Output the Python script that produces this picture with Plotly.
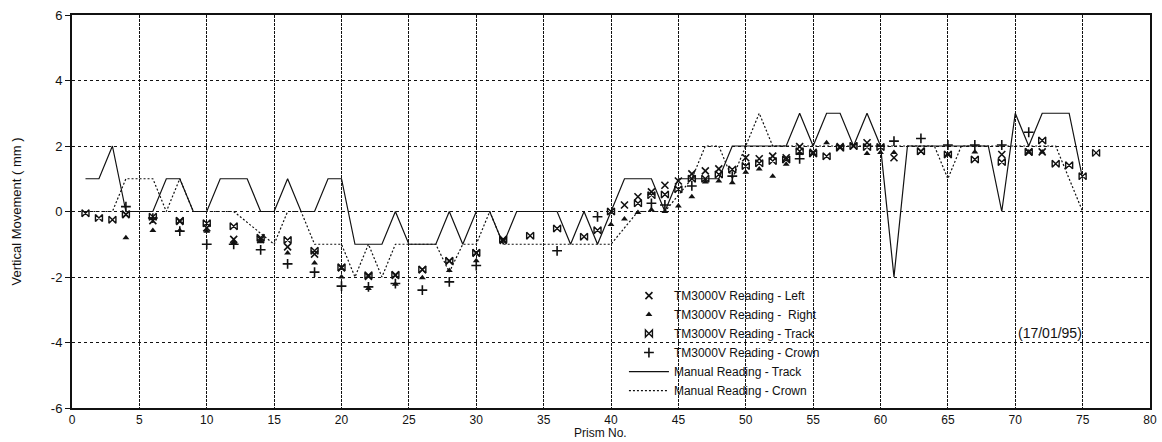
import plotly.graph_objects as go

# ---- Manual readings (lines) ----
manual_track_x = list(range(1, 76))
manual_track_y = [1, 1, 2, 0, 0, 0, 1, 1, 0, 0, 1, 1, 1, 0, 0, 1, 0, 0, 1, 1,
                  -1, -1, -1, 0, -1, -1, -1, 0, -1, 0, 0, -1, 0, 0, 0, 0, -1, 0, -1, 0,
                  1, 1, 1, 0, 1, 1, 1, 1, 2, 2, 2, 2, 2, 3, 2, 3, 3, 2, 3, 2,
                  -2, 2, 2, 2, 2, 2, 2, 2, 0, 3, 2, 3, 3, 3, 1]

manual_crown_x = [1, 2, 3, 4, 5, 6, 7, 8, 9, 10, 11, 12, 15, 16, 17, 18, 19, 20,
                  21, 22, 23, 24, 25, 26, 27, 28, 29, 30, 31, 32, 33, 34, 35, 36, 37, 38, 39, 40,
                  42, 43, 44, 45, 46, 47, 48, 49, 50, 51, 52, 53, 54, 55, 56, 57, 58, 59, 60,
                  61, 62, 63, 64, 65, 66, 67, 68, 69, 70, 71, 72, 73, 74, 75]
manual_crown_y = [0, 0, 0, 1, 1, 1, 0, 1, 0, 0, 0, 0, -1, 0, 0, -1, -1, -1,
                  -2, -1, -2, -1, -1, -1, -1, -1.85, -1, -1, 0, -1, -1, -1, -1, -1, -1, -1, -1, -1,
                  0, 0, 0, 0.5, 1, 2, 2, 1, 2, 3, 2, 2, 2, 2, 2, 2, 2, 2, 2,
                  2, 2, 2, 2, 1, 2, 2, 2, 2, 2, 2, 2, 2, 1, 0]

# ---- TM3000V readings (markers) ----
left_x = [4, 6, 8, 10, 12, 14, 16, 18, 20, 22, 24, 26, 28, 30, 32,
          41, 42, 43, 44, 45, 46, 47, 48, 50, 51, 52, 53, 54, 55, 57, 58, 59, 61, 63, 69, 71, 72]
left_y = [-0.1, -0.28, -0.3, -0.5, -0.85, -0.85, -1.08, -1.3, -1.72, -1.98, -1.95, -1.78, -1.52, -1.27, -0.88,
          0.2, 0.45, 0.6, 0.8, 0.93, 1.15, 1.24, 1.3, 1.64, 1.61, 1.69, 1.64, 1.98, 1.81, 1.98, 2.0, 2.1, 1.64, 1.84, 1.74, 1.82, 1.82]

right_x = [4, 6, 8, 10, 12, 14, 16, 18, 20, 22, 24, 26, 28, 30,
           40, 41, 42, 43, 44, 45, 46, 47, 48, 49, 50, 51, 52, 53, 54, 56, 59, 60, 61, 65, 67, 71, 72]
right_y = [-0.8, -0.58, -0.58, -0.6, -0.95, -0.92, -1.27, -1.57, -2.0, -2.35, -2.22, -2.02, -1.8, -1.5,
           -0.4, -0.23, -0.03, 0.05, 0.0, 0.17, 0.45, 0.9, 0.93, 0.88, 1.2, 1.3, 1.08, 1.44, 1.77, 2.1, 1.77, 1.8, 1.8, 1.74, 1.82, 1.82, 1.82]

track_x = [1, 2, 3, 4, 6, 8, 10, 12, 14, 16, 18, 20, 22, 24, 26, 28, 30, 32, 34, 36, 38, 39, 40,
           42, 43, 44, 45, 46, 47, 48, 49, 50, 51, 52, 53, 54, 55, 56, 57, 58, 59, 60,
           63, 65, 67, 69, 71, 72, 73, 74, 75, 76]
track_y = [-0.05, -0.2, -0.25, -0.08, -0.16, -0.28, -0.36, -0.45, -0.8, -0.87, -1.2, -1.7, -1.95, -1.93, -1.77, -1.5, -1.26, -0.85, -0.74, -0.52, -0.77, -0.57, 0.0,
           0.25, 0.5, 0.52, 0.68, 1.0, 1.0, 1.13, 1.28, 1.39, 1.47, 1.54, 1.59, 1.84, 1.77, 1.69, 1.95, 2.0, 1.97, 1.97,
           1.84, 1.74, 1.59, 1.51, 1.82, 2.17, 1.46, 1.41, 1.08, 1.79]

crown_x = [4, 6, 8, 10, 12, 14, 16, 18, 20, 22, 24, 26, 28, 30, 36, 39,
           43, 44, 46, 49, 54, 61, 63, 65, 67, 69, 71]
crown_y = [0.15, -0.2, -0.6, -1.0, -1.0, -1.17, -1.6, -1.85, -2.28, -2.3, -2.2, -2.4, -2.15, -1.65, -1.2, -0.16,
           0.25, 0.2, 0.78, 1.08, 1.61, 2.15, 2.23, 2.03, 2.03, 2.03, 2.42]

x_ticks = list(range(0, 81, 5))
y_ticks = [-6, -4, -2, 0, 2, 4, 6]

FONT = "Liberation Sans, Arial, sans-serif"
INK = "#111111"

fig = go.Figure()

fig.add_trace(go.Scatter(x=left_x, y=left_y, mode="markers", name="TM3000V Reading - Left",
                         marker=dict(symbol="x-thin", size=7, line=dict(color=INK, width=1.6), color=INK)))
fig.add_trace(go.Scatter(x=right_x, y=right_y, mode="markers", name="TM3000V Reading -  Right",
                         marker=dict(symbol="triangle-up", size=6, color=INK)))
fig.add_trace(go.Scatter(x=track_x, y=track_y, mode="markers", name="TM3000V Reading - Track",
                         marker=dict(symbol="bowtie-open", size=7, line=dict(color=INK, width=1.4), color=INK)))
fig.add_trace(go.Scatter(x=crown_x, y=crown_y, mode="markers", name="TM3000V Reading - Crown",
                         marker=dict(symbol="cross-thin", size=7, line=dict(color=INK, width=1.6), color=INK)))
fig.add_trace(go.Scatter(x=manual_track_x, y=manual_track_y, mode="lines", name="Manual Reading - Track",
                         line=dict(color=INK, width=1.2, dash="solid")))
fig.add_trace(go.Scatter(x=manual_crown_x, y=manual_crown_y, mode="lines", name="Manual Reading - Crown",
                         line=dict(color=INK, width=1.2, dash="2px,2px")))

fig.add_annotation(x=72.6, y=-3.7, text="(17/01/95)", showarrow=False,
                   font=dict(family=FONT, size=14, color=INK))

# x-axis title as an annotation placed just under the tick labels
fig.add_annotation(x=0.49, y=-0.0865, xref="paper", yref="paper", text="Prism No.",
                   showarrow=False, yanchor="bottom",
                   font=dict(family=FONT, size=12, color=INK))

fig.update_layout(
    width=1162, height=442,
    margin=dict(l=72, r=12, t=15, b=34, autoexpand=False),
    paper_bgcolor="white", plot_bgcolor="white",
    font=dict(family=FONT, color=INK),
    legend=dict(x=0.512, y=0.323, xanchor="left", yanchor="top",
                bgcolor="rgba(0,0,0,0)", borderwidth=0,
                font=dict(family=FONT, size=12, color=INK),
                tracegroupgap=0, itemwidth=40),
    showlegend=True,
)

fig.update_xaxes(range=[0, 80], tickvals=x_ticks, ticktext=[str(v) for v in x_ticks],
                 showgrid=True, gridcolor=INK, gridwidth=1.2, griddash="3px,1px",
                 showline=True, linecolor=INK, linewidth=2, mirror=True,
                 ticks="", zeroline=False, automargin=False,
                 tickfont=dict(family=FONT, size=12, color=INK))

fig.update_yaxes(range=[-6, 6], tickvals=y_ticks, ticktext=[str(v) for v in y_ticks],
                 showgrid=True, gridcolor=INK, gridwidth=1, griddash="dot",
                 showline=True, linecolor=INK, linewidth=2, mirror=True,
                 ticks="outside", ticklen=5, tickcolor=INK, zeroline=False, automargin=False,
                 tickfont=dict(family=FONT, size=13, color=INK),
                 title=dict(text="Vertical Movement ( mm )",
                            font=dict(family="Liberation Sans Narrow, Arial Narrow, Liberation Sans", size=13, color=INK),
                            standoff=26))

fig.write_html("out.html")
